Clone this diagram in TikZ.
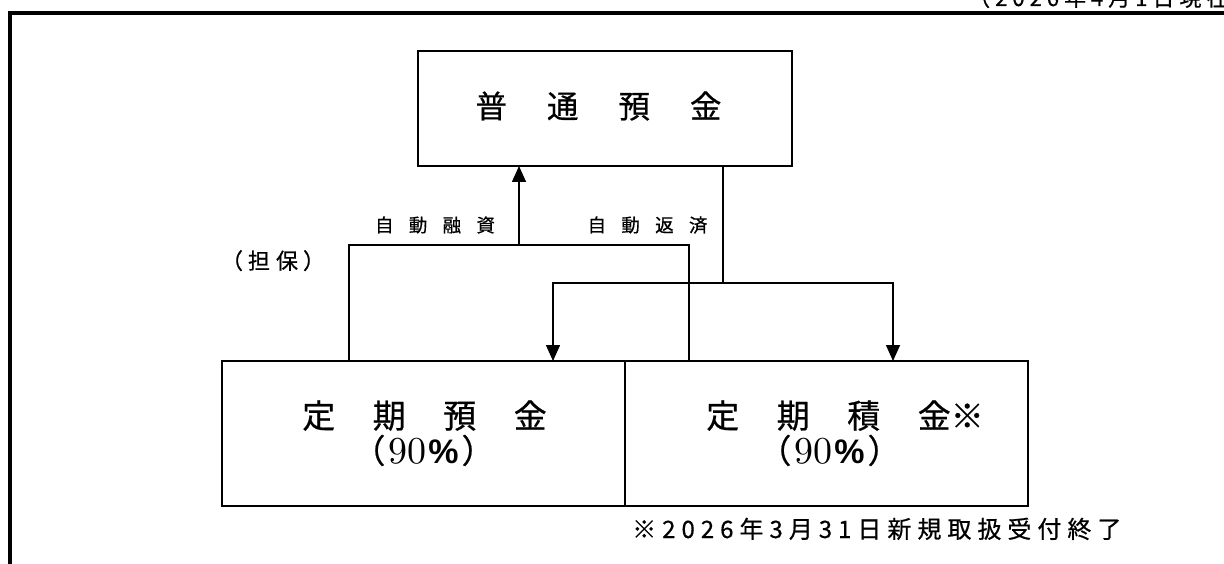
\documentclass[tikz,border=0pt]{standalone}
\usepackage{fontspec}
\setmainfont{Noto Sans CJK JP}[FakeBold=0.6]
\newfontfamily\lmr[Extension=.otf]{lmroman10-regular}
\newfontfamily\libsans{Liberation Sans}
\usetikzlibrary{arrows.meta}
\newcommand\spaced[2]{\def\spcamt{#1}\spcloop#2\relax}
\def\spcloop#1{\ifx\relax#1\unskip\else#1\hspace{\spcamt}\expandafter\spcloop\fi}
\newcommand\pct[1]{{\fontsize{33}{33}\selectfont （}\hspace{3pt}{\lmr\fontsize{38}{38}\selectfont 90}\hspace{2pt}{\libsans\bfseries\fontsize{34}{34}\selectfont\%}\hspace{3pt}{\fontsize{33}{33}\selectfont ）}}
\begin{document}
\begin{tikzpicture}[x=1pt,y=-1pt,
  box/.style={draw, line width=2pt, inner sep=0pt, outer sep=0pt},
  conn/.style={line width=1.5pt},
  arr/.style={conn, -{Triangle[width=14pt,length=16pt]}},
  txt/.style={inner sep=0pt, anchor=base},
  big/.style={txt, font=\fontsize{33}{33}\selectfont},
  lab/.style={txt, font=\fontsize{18.5}{20}\selectfont},
  note/.style={inner sep=0pt, anchor=base west, font=\fontsize{24}{26}\selectfont}]
\useasboundingbox (0,0) rectangle (1224,564);
\fill[white] (0,0) rectangle (1224,564);
% outer frame
\draw[line width=3.5pt] (10,580) -- (10,13) -- (1240,13);
% date (cut off at top, as in the reference)
\node[note, font=\fontsize{22}{24}\selectfont] (date) at (968,6) {\spaced{5pt}{（2026年4月1日現在）}};
% boxes
\node[box, minimum width=374pt, minimum height=115pt] (futsu) at (605,108.5) {};
\node[box, minimum width=402.5pt, minimum height=145pt] (teiki) at (423.25,433.5) {};
\node[box, minimum width=403.5pt, minimum height=145pt] (tsumi) at (826.25,433.5) {};
% box texts
\node[txt, font=\fontsize{31.5}{33}\selectfont] (futsuT) at (598.5,118) {普\hspace{40pt}通\hspace{40pt}預\hspace{40pt}金};
\node[big] (teikiT) at (424.5,428) {定\hspace{37.5pt}期\hspace{37.5pt}預\hspace{37.5pt}金};
\node[big] (tsumiT) at (828.5,428) {定\hspace{37.5pt}期\hspace{37.5pt}積\hspace{37.5pt}金\rlap{※}};
\node[txt] (teikiP) at (423.5,463) {\pct{}};
\node[txt] (tsumiP) at (829.5,463) {\pct{}};
% connectors
\coordinate (jL) at (349,245);
\coordinate (jR) at (689,245);
\coordinate (jU) at (519,245);
\draw[conn] (jL |- teiki.north) -- (jL) -- (jR) -- (jR |- tsumi.north);
\draw[arr] (jU) -- (jU |- futsu.south);
\coordinate (dn) at (723,283);
\coordinate (hl) at (553,283);
\coordinate (hr) at (893,283);
\draw[arr] (dn |- futsu.south) -- (dn) -- (hl) -- (hl |- teiki.north);
\draw[arr] (dn) -- (hr) -- (hr |- tsumi.north);
% labels
\node[lab] (loan) at (435,232) {自\hspace{15.3pt}動\hspace{15.3pt}融\hspace{15.3pt}資};
\node[lab] (repay) at (647.5,232) {自\hspace{15.3pt}動\hspace{15.3pt}返\hspace{15.3pt}済};
\node[txt, font=\fontsize{22}{24}\selectfont] (tanpo) at (273,269) {（\hspace{5pt}担\hspace{6pt}保\hspace{5pt}）};
% footnote
\node[note] (fn) at (632,538) {\spaced{6pt}{※2026年3月31日新規取扱受付終了}};
\end{tikzpicture}
\end{document}
